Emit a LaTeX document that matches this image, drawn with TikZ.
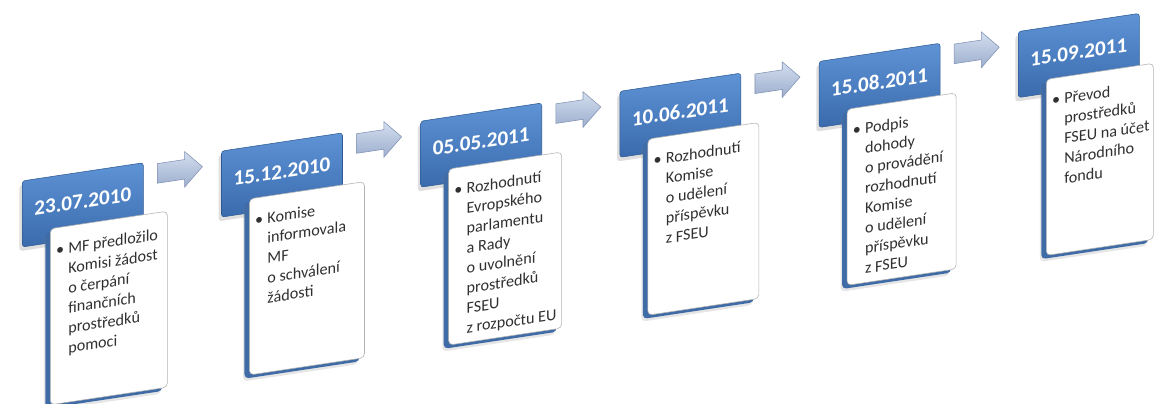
\documentclass[tikz,border=0pt]{standalone}
\usepackage{fontspec}
\setmainfont{Carlito}
\usetikzlibrary{shapes.arrows,shadows}
\definecolor{datetop}{HTML}{5E93D6}
\definecolor{datebottom}{HTML}{3A6BAC}
\definecolor{dateborder}{HTML}{2F5B94}
\definecolor{plateblue}{HTML}{3F6CA6}
\definecolor{arrowtop}{HTML}{D3DEEF}
\definecolor{arrowbottom}{HTML}{9DAECD}
\definecolor{arrowborder}{HTML}{8192B4}
\definecolor{steptext}{HTML}{303030}
\begin{document}
\begin{tikzpicture} [
                x=0.025cm, y=-0.025cm,
                date box/.style = {draw=dateborder, top color=datetop, bottom color=datebottom,
                    rounded corners=2pt, minimum width=3.025cm, minimum height=1.65cm,
                    inner sep=0pt, text=white, font=\fontsize{15}{18}\selectfont\bfseries,
                    drop shadow={opacity=0.25, shadow xshift=-2pt, shadow yshift=-3pt}},
                back plate/.style = {fill=plateblue, rounded corners=3pt, minimum height=4.4cm,
                    inner sep=0pt, drop shadow={opacity=0.2, shadow xshift=-1pt, shadow yshift=-2pt}},
                step box/.style = {draw=black!30, fill=white, rounded corners=3pt,
                    minimum height=4.4cm, inner sep=0pt},
                step text/.style = {align=left, inner sep=0pt, text=steptext,
                    font=\fontsize{11.5}{14.2}\selectfont},
                step arrow/.style = {single arrow, draw=arrowborder, top color=arrowtop,
                    bottom color=arrowbottom, minimum height=1.125cm, inner xsep=0pt,
                    inner ysep=0.2375cm, single arrow head extend=0.2cm, single arrow head indent=0pt},
            ]
            \useasboundingbox (0,0) rectangle (1156,403);
            \begin{scope}[yslant=0.15, transform shape]
            % First we draw the steps: date, blue plate, white box and its text
            \foreach \i/\date/\txt in {
                    0/23.07.2010/{MF předložilo\\Komisi žádost\\o čerpání\\finančních\\prostředků\\pomoci},
                    1/15.12.2010/{Komise\\informovala\\MF\\o schválení\\žádosti},
                    2/05.05.2011/{Rozhodnutí\\Evropského\\parlamentu\\a Rady\\o uvolnění\\prostředků\\FSEU\\z rozpočtu EU},
                    3/10.06.2011/{Rozhodnutí\\Komise\\o udělení\\příspěvku\\z FSEU},
                    4/15.08.2011/{Podpis\\dohody\\o provádění\\rozhodnutí\\Komise\\o udělení\\příspěvku\\z FSEU},
                    5/15.09.2011/{Převod\\prostředků\\FSEU na účet\\Národního\\fondu}} {
                \pgfmathsetmacro{\ox}{22+199.2*\i}
                \pgfmathsetmacro{\ww}{(117-2*\i)*0.025}
                \node[date box, anchor=north west] (d\i) at (\ox,184) {\raisebox{5pt}{\date}};
                \node[back plate, minimum width=\ww cm, anchor=north west] (p\i) at (\ox+23,239) {};
                \node[step box, minimum width=\ww cm, anchor=north west] (w\i) at (\ox+28,236) {};
                \node[step text, anchor=north west] (t\i) at (\ox+46,252)
                    {\llap{\textbullet\hspace{3pt}}\txt};
            }
            % Arrows between the steps
            \foreach \i in {0,...,4}
                \node[step arrow] (a\i) at (175+199.2*\i,197) {};
            \end{scope}
        \end{tikzpicture}
\end{document}
